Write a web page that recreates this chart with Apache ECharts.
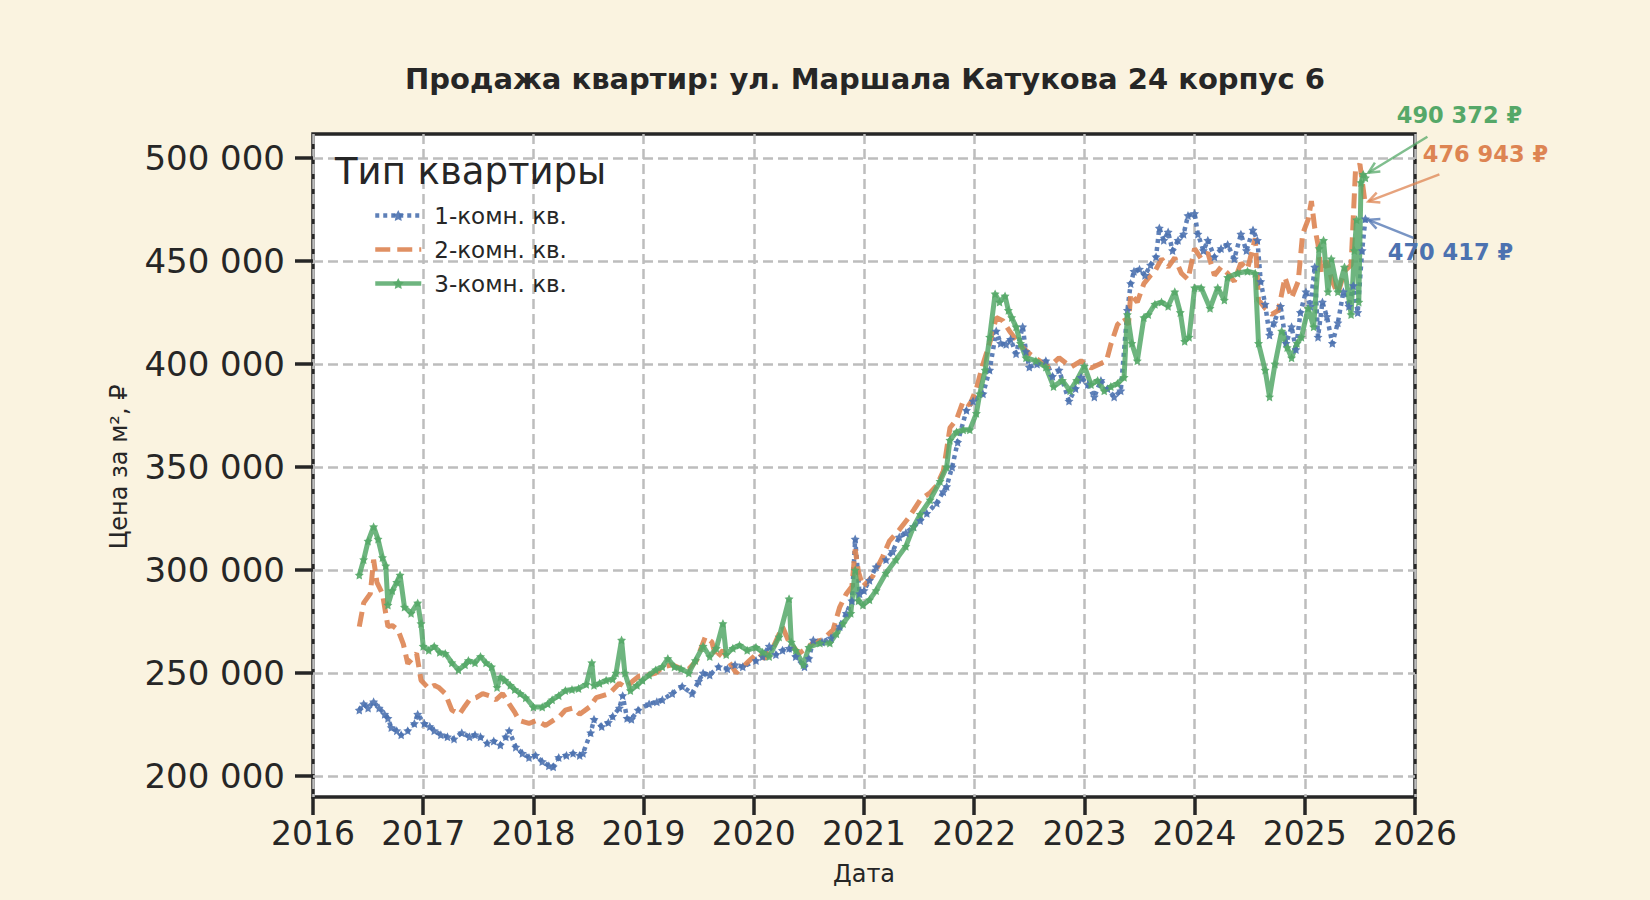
<!DOCTYPE html>
<html>
<head>
<meta charset="utf-8">
<script src="https://cdn.jsdelivr.net/npm/echarts@6/dist/echarts.min.js"></script>
<style>
html,body{margin:0;padding:0;background:#FAF3E0;}
#chart{width:1650px;height:900px;}
</style>
</head>
<body>
<div id="chart"></div>
<script>
// ---------- DATA ----------
const chartTitle = 'Продажа квартир: ул. Маршала Катукова 24 корпус 6';
const seriesNames = ['1-комн. кв.', '2-комн. кв.', '3-комн. кв.'];
const yearTicks = [2016, 2017, 2018, 2019, 2020, 2021, 2022, 2023, 2024, 2025, 2026];
const priceTicks = [200000, 250000, 300000, 350000, 400000, 450000, 500000];

// 1-room: decimal year / price per m2
const room1Years = [2016.42,2016.46,2016.50,2016.55,2016.60,2016.65,2016.68,2016.71,2016.76,2016.80,2016.86,2016.92,2016.95,2017.01,2017.06,2017.10,2017.16,2017.22,2017.28,2017.35,2017.42,2017.47,2017.52,2017.58,2017.64,2017.70,2017.75,2017.78,2017.84,2017.90,2017.96,2018.02,2018.08,2018.14,2018.18,2018.23,2018.30,2018.36,2018.42,2018.45,2018.52,2018.55,2018.62,2018.68,2018.72,2018.78,2018.81,2018.85,2018.89,2018.95,2019.05,2019.12,2019.17,2019.26,2019.35,2019.44,2019.50,2019.54,2019.60,2019.68,2019.76,2019.83,2019.90,2020.02,2020.08,2020.14,2020.20,2020.26,2020.32,2020.38,2020.46,2020.50,2020.54,2020.62,2020.70,2020.78,2020.84,2020.89,2020.92,2020.96,2021.00,2021.05,2021.11,2021.20,2021.26,2021.32,2021.38,2021.45,2021.51,2021.57,2021.66,2021.72,2021.75,2021.80,2021.85,2021.93,2021.99,2022.08,2022.14,2022.20,2022.24,2022.29,2022.33,2022.38,2022.44,2022.47,2022.50,2022.57,2022.65,2022.71,2022.77,2022.86,2022.92,2022.97,2023.03,2023.09,2023.15,2023.21,2023.27,2023.33,2023.39,2023.42,2023.45,2023.50,2023.55,2023.60,2023.65,2023.68,2023.72,2023.76,2023.80,2023.85,2023.90,2023.94,2024.00,2024.03,2024.08,2024.12,2024.18,2024.24,2024.30,2024.36,2024.42,2024.47,2024.53,2024.57,2024.60,2024.64,2024.68,2024.72,2024.78,2024.83,2024.88,2024.92,2024.96,2025.01,2025.05,2025.09,2025.12,2025.16,2025.20,2025.25,2025.30,2025.35,2025.40,2025.44,2025.48,2025.52,2025.55];
const room1Prices = [232000,235000,233000,236000,233000,230000,228000,223500,222000,220000,222000,225500,230000,225500,224000,222000,220000,219000,218000,221000,219000,220000,219000,216000,217000,215000,219000,222000,214000,211000,209000,210000,207000,205000,204500,209000,210000,211000,210000,211000,221000,227500,224000,226000,229000,233000,239000,228000,227500,232000,235000,236000,237000,240000,243500,240000,246000,250000,249000,253000,252000,254000,253000,256000,258000,263000,259000,261000,262000,258000,253000,257000,266000,265000,267000,272500,279000,285000,315000,288500,290000,295000,301500,305000,309000,316000,318000,321000,324000,327500,332500,338000,340500,350000,362000,377500,382000,385500,397000,416000,410000,409500,412000,405000,418000,406000,398500,400000,401500,394000,397000,382000,388000,393500,390000,384000,392000,388000,384000,387000,426000,439000,445000,446000,443000,448000,452000,466000,460000,464000,455000,460000,463000,472000,473000,463000,455000,460000,452000,456000,458000,451000,463000,455000,465000,460000,440000,429000,414000,420000,428000,410000,418000,407000,425000,435000,428000,447000,413000,430000,423000,410000,420000,435000,428000,438000,425000,455000,470417];

// 2-room
const room2Years = [2016.42,2016.46,2016.52,2016.55,2016.58,2016.63,2016.68,2016.72,2016.77,2016.82,2016.86,2016.90,2016.94,2016.98,2017.05,2017.10,2017.14,2017.20,2017.26,2017.33,2017.38,2017.42,2017.48,2017.54,2017.60,2017.66,2017.72,2017.78,2017.83,2017.87,2017.96,2018.03,2018.11,2018.18,2018.24,2018.29,2018.36,2018.42,2018.51,2018.57,2018.63,2018.69,2018.78,2018.84,2018.90,2018.96,2019.04,2019.11,2019.18,2019.26,2019.34,2019.41,2019.48,2019.56,2019.62,2019.66,2019.72,2019.78,2019.84,2019.90,2019.96,2020.04,2020.10,2020.18,2020.26,2020.32,2020.41,2020.48,2020.55,2020.62,2020.72,2020.78,2020.84,2020.89,2020.92,2020.95,2020.99,2021.08,2021.17,2021.23,2021.32,2021.40,2021.45,2021.51,2021.60,2021.66,2021.72,2021.78,2021.84,2021.90,2021.96,2022.02,2022.08,2022.14,2022.20,2022.26,2022.32,2022.41,2022.50,2022.58,2022.68,2022.77,2022.88,2022.97,2023.06,2023.14,2023.20,2023.24,2023.30,2023.36,2023.40,2023.42,2023.48,2023.54,2023.60,2023.64,2023.70,2023.76,2023.82,2023.88,2023.94,2024.00,2024.06,2024.12,2024.18,2024.24,2024.30,2024.36,2024.42,2024.48,2024.55,2024.58,2024.64,2024.70,2024.76,2024.82,2024.88,2024.94,2024.98,2025.03,2025.06,2025.09,2025.12,2025.15,2025.20,2025.25,2025.30,2025.36,2025.42,2025.46,2025.50,2025.53,2025.55];
const room2Prices = [272500,284000,288500,305000,294000,288500,272500,273000,271000,264000,254500,257000,259500,246500,242500,244000,243000,240000,232000,230000,234000,237000,238000,240000,239000,237000,240000,235000,231000,227000,225500,227000,224500,227000,229000,232000,233000,230000,233500,238000,239000,240000,245000,243000,246000,248500,249000,250000,253000,254000,252000,252000,256000,267500,265000,257000,261000,255000,250000,253000,256000,260000,257000,263000,272500,265000,259500,262000,265000,266000,271000,282000,288500,292000,310000,299000,292000,297000,306500,314000,319500,325000,329000,334000,337500,341000,348000,369000,373000,382000,380000,388000,400000,410000,422500,421000,416000,409500,405000,402000,398500,403000,398500,401500,398000,400000,401500,409500,419000,422500,419000,434000,430000,439000,443000,445000,451000,447000,451500,444000,441000,456000,451000,454000,443000,447000,444000,440000,449000,446000,461000,431000,427000,424000,426000,442000,432000,440000,463000,470000,479000,466000,458000,444000,450000,440000,434000,445000,448000,494000,497000,485000,476943];

// 3-room
const room3Years = [2016.42,2016.46,2016.50,2016.55,2016.59,2016.63,2016.66,2016.68,2016.72,2016.76,2016.79,2016.83,2016.89,2016.95,2016.98,2017.00,2017.05,2017.10,2017.15,2017.20,2017.26,2017.32,2017.38,2017.41,2017.47,2017.52,2017.57,2017.62,2017.67,2017.70,2017.74,2017.79,2017.83,2017.88,2017.93,2018.00,2018.08,2018.13,2018.17,2018.23,2018.29,2018.35,2018.41,2018.48,2018.53,2018.55,2018.60,2018.66,2018.72,2018.75,2018.80,2018.83,2018.88,2018.94,2018.99,2019.05,2019.11,2019.17,2019.22,2019.28,2019.34,2019.41,2019.47,2019.54,2019.60,2019.66,2019.72,2019.75,2019.81,2019.87,2019.94,2020.02,2020.08,2020.14,2020.23,2020.32,2020.34,2020.38,2020.45,2020.50,2020.60,2020.69,2020.75,2020.81,2020.88,2020.92,2020.95,2020.99,2021.05,2021.11,2021.20,2021.29,2021.38,2021.45,2021.51,2021.60,2021.69,2021.75,2021.78,2021.84,2021.90,2021.96,2022.02,2022.05,2022.10,2022.14,2022.19,2022.23,2022.28,2022.31,2022.34,2022.38,2022.42,2022.47,2022.56,2022.65,2022.72,2022.80,2022.87,2022.93,2023.00,2023.06,2023.12,2023.18,2023.24,2023.30,2023.36,2023.39,2023.43,2023.48,2023.54,2023.58,2023.64,2023.70,2023.76,2023.82,2023.87,2023.91,2023.95,2024.00,2024.06,2024.14,2024.21,2024.27,2024.30,2024.39,2024.48,2024.55,2024.58,2024.64,2024.68,2024.73,2024.79,2024.84,2024.88,2024.93,2024.97,2025.03,2025.08,2025.13,2025.17,2025.21,2025.24,2025.30,2025.36,2025.42,2025.45,2025.47,2025.49,2025.51,2025.53,2025.55];
const room3Prices = [297500,305000,314000,321000,315000,306000,302000,283000,290000,294000,297500,282000,279000,284000,274000,263000,261000,263000,260000,259500,255000,251500,254000,256000,255000,258000,255000,253000,243000,248000,246500,244000,242000,240000,238000,233500,233500,235000,237000,239000,241500,242000,242500,244500,255000,244000,245000,246500,247000,250000,266000,250000,241500,244000,246500,249000,251500,253000,257000,253000,252000,250000,256000,263000,258000,262000,274000,259000,262000,263500,261000,262500,260000,258000,267500,286000,265000,261000,254000,262500,264500,264500,269000,274000,279000,300000,285000,283000,285500,290000,298500,305000,311500,321000,327000,334000,343000,350000,363000,367000,368000,368000,376000,385500,397000,413000,434000,430000,433000,426000,422500,418000,410000,403000,401500,398500,389000,392000,387000,392000,399000,390000,392000,387000,389000,390500,393500,424000,410000,401500,422500,424000,429000,430000,428000,435000,425000,411000,413000,437000,437000,427000,437000,431000,442000,444000,445000,444000,410000,397000,384000,400000,416000,408000,403000,410000,413000,427000,418000,456000,460000,435000,451000,435000,447000,424000,455000,470000,430000,488000,492000,490372];

// last-value annotations
const lastLabels = ['470 417 ₽', '476 943 ₽', '490 372 ₽'];

// ---------- STYLE ----------
const colors = ['#4C72B0', '#DD8452', '#55A868'];
const ink = '#262626';
const font = 'DejaVu Sans';
const star = 'path://M0,-10L2.9,-4L9.5,-3.1L4.7,1.5L5.9,8.1L0,5L-5.9,8.1L-4.7,1.5L-9.5,-3.1L-2.9,-4Z';

function pairs(xs, ys) { return xs.map((x, i) => [x, ys[i]]); }
function fmtThousands(v) { return String(v).replace(/\B(?=(\d{3})+(?!\d))/g, ' '); }

const G = { left: 313, right: 235, top: 134, bottom: 103 };
const Y0 = 189800, Y1 = 511600; // full frame extent in data units
const plotH = 900 - G.top - G.bottom;
const pxPerUnit = plotH / (Y1 - Y0);
const innerTop = G.top + (Y1 - 500000) * pxPerUnit;
const innerBottom = G.bottom + (200000 - Y0) * pxPerUnit;

const chart = echarts.init(document.getElementById('chart'), null, { renderer: 'svg' });

const splitDash = { show: true, lineStyle: { color: '#bdbdbd', width: 2.5, type: [10, 5] } };

const option = {
  backgroundColor: '#FAF3E0',
  animation: false,
  textStyle: { fontFamily: font, color: ink },
  title: [
    { text: chartTitle, left: 860, top: 59, textAlign: 'center',
      textStyle: { fontFamily: font, fontWeight: 'bold', fontSize: 29, color: ink } },
    { text: 'Тип квартиры', left: 330, top: 148,
      textStyle: { fontFamily: font, fontWeight: 'normal', fontSize: 37, color: ink } }
  ],
  legend: {
    orient: 'vertical', left: 368, top: 199,
    itemWidth: 46, itemHeight: 14, itemGap: 11,
    lineStyle: { width: 4.5 },
    textStyle: { fontFamily: font, fontSize: 23, color: ink, padding: [0, 0, 0, 8] },
    data: [
      { name: seriesNames[0] },
      { name: seriesNames[1], itemStyle: { opacity: 0 } },
      { name: seriesNames[2] }
    ]
  },
  grid: [
    { left: G.left, right: G.right, top: G.top, bottom: G.bottom, show: true,
      backgroundColor: '#ffffff', borderColor: ink, borderWidth: 3.5 },
    { left: G.left, right: G.right, top: innerTop, bottom: innerBottom }
  ],
  xAxis: [
    { type: 'value', gridIndex: 0, min: yearTicks[0], max: yearTicks[yearTicks.length - 1], interval: 1,
      axisLine: { show: false },
      axisTick: { show: true, length: 18, lineStyle: { color: ink, width: 3.5 } },
      axisLabel: { fontFamily: font, fontSize: 33, color: ink, margin: 20, formatter: v => String(v) },
      splitLine: splitDash,
      name: 'Дата', nameLocation: 'middle', nameGap: 65,
      nameTextStyle: { fontFamily: font, fontSize: 24, color: ink } },
    { type: 'value', gridIndex: 1, min: yearTicks[0], max: yearTicks[yearTicks.length - 1], show: false }
  ],
  yAxis: [
    { type: 'value', gridIndex: 0, min: 0, max: 1, show: false },
    { type: 'value', gridIndex: 1, min: priceTicks[0], max: priceTicks[priceTicks.length - 1], interval: 50000,
      axisLine: { show: false },
      axisTick: { show: true, length: 18, lineStyle: { color: ink, width: 3.5 } },
      axisLabel: { fontFamily: font, fontSize: 34, color: ink, margin: 28, formatter: v => fmtThousands(v) },
      splitLine: splitDash,
      name: 'Цена за м², ₽', nameLocation: 'middle', nameGap: 182, nameRotate: 90,
      nameTextStyle: { fontFamily: font, fontSize: 24, color: ink } }
  ],
  series: [
    { name: seriesNames[0], type: 'line', xAxisIndex: 1, yAxisIndex: 1,
      data: pairs(room1Years, room1Prices),
      symbol: star, symbolSize: 9, showSymbol: true,
      lineStyle: { color: colors[0], width: 4.5, type: [4, 4], opacity: 0.9 },
      itemStyle: { color: colors[0], opacity: 0.9 }, color: colors[0] },
    { name: seriesNames[1], type: 'line', xAxisIndex: 1, yAxisIndex: 1,
      data: pairs(room2Years, room2Prices),
      symbol: 'none',
      lineStyle: { color: colors[1], width: 5, type: [15, 7], opacity: 0.9 },
      itemStyle: { color: colors[1] }, color: colors[1] },
    { name: seriesNames[2], type: 'line', xAxisIndex: 1, yAxisIndex: 1,
      data: pairs(room3Years, room3Prices),
      symbol: star, symbolSize: 9, showSymbol: true,
      lineStyle: { color: colors[2], width: 5, opacity: 0.85 },
      itemStyle: { color: colors[2], opacity: 0.9 }, color: colors[2] }
  ]
};
chart.setOption(option);

// annotations for last values, anchored to data via convertToPixel
const ends = [
  [room1Years[room1Years.length - 1], room1Prices[room1Prices.length - 1]],
  [room2Years[room2Years.length - 1], room2Prices[room2Prices.length - 1]],
  [room3Years[room3Years.length - 1], room3Prices[room3Prices.length - 1]]
];
// text offsets and arrow tail offsets relative to the end point (pixels)
const textOff = [[85, 33], [120, -51], [94, -63]];
const tailOff = [[48, 19], [74, -31], [62, -41]];
const tipOff = [[3, 1], [3, -4], [3, -5]];
const elements = [];
ends.forEach((e, i) => {
  const p = chart.convertToPixel({ xAxisIndex: 1, yAxisIndex: 1 }, e);
  const tip = [p[0] + tipOff[i][0], p[1] + tipOff[i][1]];
  const tail = [p[0] + tailOff[i][0], p[1] + tailOff[i][1]];
  const ang = Math.atan2(tail[1] - tip[1], tail[0] - tip[0]);
  const L = 12, a = 0.45;
  const h1 = [tip[0] + L * Math.cos(ang + a), tip[1] + L * Math.sin(ang + a)];
  const h2 = [tip[0] + L * Math.cos(ang - a), tip[1] + L * Math.sin(ang - a)];
  elements.push({ type: 'line', z: 100, shape: { x1: tail[0], y1: tail[1], x2: tip[0], y2: tip[1] },
    style: { stroke: colors[i], lineWidth: 2.5, opacity: 0.75 } });
  elements.push({ type: 'polyline', z: 100, shape: { points: [h1, tip, h2] },
    style: { stroke: colors[i], lineWidth: 2.5, fill: null, opacity: 0.75 } });
  elements.push({ type: 'text', z: 100, x: p[0] + textOff[i][0], y: p[1] + textOff[i][1],
    style: { text: lastLabels[i], fill: colors[i], font: 'bold 22.5px "DejaVu Sans"',
      align: 'center', verticalAlign: 'middle' } });
});
chart.setOption({ graphic: { elements: elements } });
</script>
</body>
</html>
